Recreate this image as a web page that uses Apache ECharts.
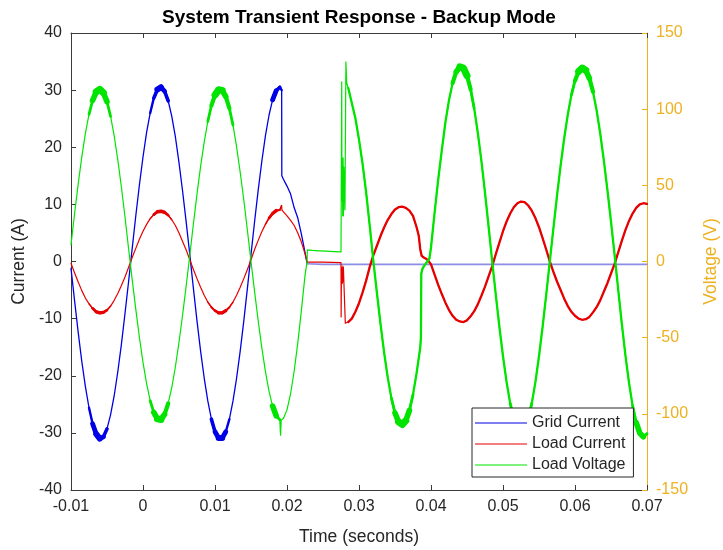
<!DOCTYPE html>
<html>
<head>
<meta charset="utf-8">
<script src="https://cdn.jsdelivr.net/npm/echarts@6/dist/echarts.min.js"></script>
<style>
  html, body { margin: 0; padding: 0; background: #ffffff; }
  #chart { width: 723px; height: 550px; }
</style>
</head>
<body>
<div id="chart"></div>
<script>
// Time (s) / value samples of the three measured traces.
const gridCurrent = [
  [-0.01, -1.2], [-0.0095, -6.9], [-0.009, -12.4], [-0.0085, -17.5], [-0.008, -21.9], [-0.0075, -25.6], [-0.007, -28.4], [-0.0065, -30.2], [-0.006, -31.0], [-0.0055, -30.7], [-0.005, -29.3], [-0.0045, -26.8], [-0.004, -23.5], [-0.0035, -19.3], [-0.003, -14.5], [-0.0025, -9.1], [-0.002, -3.5],
  [-0.0015, 2.3], [-0.001, 8.0], [-0.0005, 13.4], [0, 18.3], [0.0005, 22.6], [0.001, 26.0], [0.0015, 28.6], [0.002, 30.1], [0.0025, 30.5], [0.003, 29.8], [0.0035, 28.1], [0.004, 25.4], [0.0045, 21.8], [0.005, 17.3], [0.0055, 12.3], [0.006, 6.9], [0.0065, 1.2],
  [0.007, -4.7], [0.0075, -10.4], [0.008, -15.7], [0.0085, -20.4], [0.009, -24.4], [0.0095, -27.6], [0.01, -29.8], [0.0105, -30.9], [0.011, -30.9], [0.0115, -29.8], [0.012, -27.6], [0.0125, -24.4], [0.013, -20.4], [0.0135, -15.7], [0.014, -10.4], [0.0145, -4.7],
  [0.015, 1.2], [0.0155, 7.0], [0.016, 12.5], [0.0165, 17.5], [0.017, 22.0], [0.0175, 25.6], [0.018, 28.3], [0.0185, 29.9], [0.019, 30.5], [0.0192, 30.3], [0.01926, 30.0], [0.01928, 15.0],
  [0.0195, 14.4], [0.02, 13.2], [0.0205, 11.8], [0.021, 9.4], [0.0215, 7.6], [0.022, 4.8], [0.0225, 1.6], [0.0228, -0.4],
  [0.025, -0.5], [0.03, -0.5], [0.035, -0.5], [0.04, -0.5], [0.045, -0.5], [0.05, -0.5], [0.055, -0.5], [0.06, -0.5], [0.065, -0.5], [0.07, -0.5]
];

const loadCurrent = [
  [-0.01, -0.3], [-0.0095, -2.0], [-0.009, -3.6], [-0.0085, -5.1], [-0.008, -6.4], [-0.0075, -7.4], [-0.007, -8.2], [-0.0065, -8.8], [-0.006, -9.0], [-0.0055, -8.9], [-0.005, -8.5], [-0.0045, -7.8], [-0.004, -6.8], [-0.0035, -5.6], [-0.003, -4.2], [-0.0025, -2.7], [-0.002, -1.0],
  [-0.0015, 0.7], [-0.001, 2.3], [-0.0005, 3.9], [0, 5.3], [0.0005, 6.5], [0.001, 7.5], [0.0015, 8.2], [0.002, 8.7], [0.0025, 8.8], [0.003, 8.6], [0.0035, 8.1], [0.004, 7.3], [0.0045, 6.3], [0.005, 5.0], [0.0055, 3.5], [0.006, 2.0], [0.0065, 0.3],
  [0.007, -1.4], [0.0075, -3.0], [0.008, -4.5], [0.0085, -5.9], [0.009, -7.1], [0.0095, -8.0], [0.01, -8.6], [0.0105, -9.0], [0.011, -9.0], [0.0115, -8.6], [0.012, -8.0], [0.0125, -7.1], [0.013, -5.9], [0.0135, -4.5], [0.014, -3.0], [0.0145, -1.4],
  [0.015, 0.3], [0.0155, 2.1], [0.016, 3.7], [0.0165, 5.2], [0.017, 6.5], [0.0175, 7.6], [0.018, 8.4], [0.0185, 8.9], [0.019, 9.0], [0.01925, 9.8], [0.0193, 9.0],
  [0.0195, 8.7], [0.02, 8.0], [0.0205, 7.2], [0.021, 6.3], [0.0215, 5.0], [0.022, 3.4], [0.0225, 1.4], [0.0228, -0.1],
  [0.025, -0.1], [0.0275, -0.2], [0.02752, -9.7], [0.02756, -1.0], [0.0277, -3.8], [0.02775, -0.8], [0.0278, -3.5], [0.02783, -1.0], [0.0281, -10.8],
  [0.0285, -10.6], [0.029, -10.0], [0.0295, -8.8], [0.03, -7.3], [0.0305, -5.4], [0.031, -3.3], [0.0315, -0.9],
  [0.032, 1.1], [0.0325, 2.8], [0.033, 4.5], [0.0335, 6.0], [0.034, 7.3], [0.0345, 8.3], [0.035, 9.1], [0.0355, 9.5], [0.036, 9.6], [0.0365, 9.4], [0.037, 8.9], [0.0375, 8.0], [0.038, 6.0], [0.0383, 4.5], [0.0385, 2.2], [0.0387, 1.0], [0.039, 0.7], [0.0393, 0.5], [0.0396, 0.2], [0.04, -0.5],
  [0.0405, -2.3], [0.041, -4.1], [0.0415, -5.7], [0.042, -7.2], [0.0425, -8.5], [0.043, -9.5], [0.0435, -10.2], [0.044, -10.5], [0.0445, -10.6], [0.045, -10.3], [0.0455, -9.6], [0.046, -8.7], [0.0465, -7.5], [0.047, -6.0], [0.0475, -4.4], [0.048, -2.6], [0.0485, -0.8],
  [0.049, 1.3], [0.0495, 3.3], [0.05, 5.3], [0.0505, 7.0], [0.051, 8.4], [0.0515, 9.5], [0.052, 10.2], [0.0525, 10.5], [0.053, 10.4], [0.0535, 9.8], [0.054, 8.9], [0.0545, 7.6], [0.055, 6.0], [0.0555, 4.1], [0.056, 2.1], [0.0565, 0.0],
  [0.057, -1.8], [0.0575, -3.5], [0.058, -5.0], [0.0585, -6.5], [0.059, -7.8], [0.0595, -8.8], [0.06, -9.5], [0.0605, -10.0], [0.061, -10.2], [0.0615, -10.1], [0.062, -9.7], [0.0625, -8.9], [0.063, -8.0], [0.0635, -6.8], [0.064, -5.3], [0.0645, -3.8], [0.065, -2.1], [0.0655, -0.4],
  [0.066, 1.6], [0.0665, 3.6], [0.067, 5.5], [0.0675, 7.1], [0.068, 8.4], [0.0685, 9.4], [0.069, 10.0], [0.0695, 10.2], [0.07, 10.1]
];

const loadVoltage = [
  [-0.01, 10.9], [-0.0095, 31.5], [-0.009, 51.0], [-0.0085, 68.7], [-0.008, 84.1], [-0.0075, 96.6], [-0.007, 105.7], [-0.0065, 111.3], [-0.006, 113.0], [-0.0055, 110.8], [-0.005, 104.9], [-0.0045, 95.2], [-0.004, 82.4], [-0.0035, 66.7], [-0.003, 48.9], [-0.0025, 29.2], [-0.002, 8.4],
  [-0.0015, -11.9], [-0.001, -31.4], [-0.0005, -49.7], [0, -66.2], [0.0005, -80.2], [0.001, -91.4], [0.0015, -99.1], [0.002, -103.3], [0.0025, -103.7], [0.003, -100.3], [0.0035, -93.2], [0.004, -82.7], [0.0045, -69.1], [0.005, -53.0], [0.0055, -35.1], [0.006, -15.9],
  [0.0065, 4.1], [0.007, 24.6], [0.0075, 44.2], [0.008, 62.4], [0.0085, 78.4], [0.009, 91.9], [0.0095, 102.3], [0.01, 109.3], [0.0105, 112.7], [0.011, 112.3], [0.0115, 108.2], [0.012, 100.5], [0.0125, 89.5], [0.013, 75.3], [0.0135, 58.6], [0.014, 40.4], [0.0145, 20.5], [0.015, 0.0],
  [0.0155, -19.8], [0.016, -38.9], [0.0165, -56.5], [0.017, -72.1], [0.0175, -85.1], [0.018, -94.9], [0.0185, -101.3], [0.019, -103.9], [0.0191, -114.0], [0.0192, -104.0],
  [0.0195, -103.1], [0.02, -97.4], [0.0205, -86.8], [0.021, -71.9], [0.0215, -53.4], [0.022, -32.1], [0.0225, -9.3], [0.0228, 0.5], [0.02282, 7.6],
  [0.0235, 7.3], [0.0245, 7.0], [0.0255, 6.8], [0.0265, 6.5], [0.0275, 6.3],
  [0.02758, 6.3], [0.0276, 118.0], [0.02763, 40.0], [0.0277, 66.0], [0.02774, 30.0], [0.02779, 68.0], [0.02784, 30.0], [0.0279, 62.0], [0.02805, 34.0], [0.02818, 131.0], [0.0283, 117.0],
  [0.0285, 114.0], [0.029, 104.0], [0.0295, 94.0], [0.03, 80.0], [0.0305, 64.0], [0.031, 45.0], [0.0315, 23.0], [0.032, 0.0],
  [0.0325, -21.1], [0.033, -41.4], [0.0335, -60.1], [0.034, -76.4], [0.0345, -89.7], [0.035, -99.4], [0.0355, -105.3], [0.036, -107.0], [0.0365, -104.5], [0.037, -97.8], [0.0375, -87.4], [0.038, -73.3], [0.0385, -56.7], [0.0386, -50.0], [0.03865, -8.0], [0.0388, -5.0], [0.039, -3.2], [0.0393, -1.2], [0.0396, 0.5], [0.0398, 2.5],
  [0.04, 9.2], [0.0405, 32.0], [0.041, 53.7], [0.0415, 73.0], [0.042, 91.3], [0.0425, 105.9], [0.043, 117.1], [0.0435, 124.5], [0.044, 127.8], [0.0445, 127.0], [0.045, 122.0], [0.0455, 113.1], [0.046, 100.5], [0.0465, 84.5], [0.047, 66.0], [0.0475, 45.2], [0.048, 22.9], [0.0485, 0.0],
  [0.049, -21.9], [0.0495, -42.9], [0.05, -62.2], [0.0505, -79.2], [0.051, -93.1], [0.0515, -103.5], [0.052, -109.8], [0.0525, -112.0], [0.053, -109.8], [0.0535, -103.5], [0.054, -93.1], [0.0545, -79.2], [0.055, -62.2], [0.0555, -42.9], [0.056, -21.9], [0.0565, 0.0],
  [0.057, 21.8], [0.0575, 43.0], [0.058, 62.9], [0.0585, 80.9], [0.059, 96.5], [0.0595, 109.3], [0.06, 118.7], [0.0605, 124.7], [0.061, 127.0], [0.0615, 125.5], [0.062, 120.2], [0.0625, 111.4], [0.063, 99.3], [0.0635, 84.2], [0.064, 66.6], [0.0645, 47.0], [0.065, 26.1], [0.0655, 4.4],
  [0.066, -18.4], [0.0665, -40.8], [0.067, -61.5], [0.0675, -79.6], [0.068, -94.6], [0.0685, -105.8], [0.069, -112.7], [0.0695, -115.0], [0.07, -113.0]
];

// Instant the grid side is disconnected; after it only a small idle offset remains.
const gridOpenTime = 0.0228;

// Stretches where switching ripple thickens a trace: [series, from (s), to (s)].
const rippleSpans = [
  ['Grid Current', -0.0078, -0.0046], ['Grid Current', 0.0010, 0.0038],
  ['Grid Current', 0.0092, 0.0121], ['Grid Current', 0.0176, 0.01926],
  ['Load Current', -0.0078, -0.0042], ['Load Current', 0.0008, 0.0042],
  ['Load Current', 0.0090, 0.0126], ['Load Current', 0.0168, 0.01925],
  ['Load Voltage', -0.0077, -0.0043], ['Load Voltage', 0.0007, 0.0039],
  ['Load Voltage', 0.0089, 0.0125], ['Load Voltage', 0.0176, 0.0190],
  ['Load Voltage', 0.0342, 0.0378], ['Load Voltage', 0.0426, 0.0462],
  ['Load Voltage', 0.0508, 0.0542], ['Load Voltage', 0.0593, 0.0629],
  ['Load Voltage', 0.0679, 0.0700]
];
// Inverter-fed part of the load traces, drawn a little heavier.
const inverterSpans = [
  ['Load Current', 0.0285, 0.0700], ['Load Voltage', 0.0285, 0.0700]
];

const FONT = '"Liberation Sans", Arial, Helvetica, sans-serif';
const INK = '#262626';
const FRAME = '#3a3a3a';
const VOLT_AXIS = '#EDB120';
const COLORS = { 'Grid Current': '#0000e6', 'Load Current': '#e60000', 'Load Voltage': '#00e400' };
const RIPPLE_WIDTH = { 'Grid Current': 6, 'Load Current': 3.4, 'Load Voltage': 7 };
// Ripple is strongest at the centre of each span: nested sub-spans, [fraction of span, fraction of width].
const RIPPLE_TAPER = [[1.0, 0.4], [0.8, 0.6], [0.6, 0.8], [0.4, 1.0]];
const SOURCE = { 'Grid Current': gridCurrent, 'Load Current': loadCurrent, 'Load Voltage': loadVoltage };
const AXIS_OF = { 'Grid Current': 0, 'Load Current': 0, 'Load Voltage': 1 };

const within = (arr, a, b) => arr.filter(p => p[0] >= a - 1e-9 && p[0] <= b + 1e-9);

function trace(name, label, data, color, width) {
  return {
    name: label, type: 'line', xAxisIndex: 0, yAxisIndex: AXIS_OF[name],
    data: data, showSymbol: false, symbol: 'none', silent: true,
    lineStyle: { color: color, width: width, join: 'round', cap: 'round' },
    itemStyle: { color: color }, animation: false
  };
}

const series = [];
['Grid Current', 'Load Current', 'Load Voltage'].forEach(name => {
  const col = COLORS[name];
  if (name === 'Grid Current') {
    series.push(trace(name, name, within(gridCurrent, -1, gridOpenTime), col, 1.3));
    series.push(trace(name, 'Grid Current idle', within(gridCurrent, gridOpenTime, 1), '#8c8ce6', 1.6));
  } else {
    series.push(trace(name, name, SOURCE[name], col, 1.2));
  }
  inverterSpans.filter(s => s[0] === name).forEach((s, i) => {
    series.push(trace(name, name + ' inverter ' + i, within(SOURCE[name], s[1], s[2]), col, 2.3));
  });
  rippleSpans.filter(s => s[0] === name).forEach((s, i) => {
    const mid = (s[1] + s[2]) / 2, half = (s[2] - s[1]) / 2;
    RIPPLE_TAPER.forEach(([frac, wf], k) => {
      const pts = within(SOURCE[name], mid - half * frac, mid + half * frac);
      if (pts.length > 1) {
        series.push(trace(name, name + ' ripple ' + i + '.' + k, pts, col, RIPPLE_WIDTH[name] * wf));
      }
    });
  });
});

const timeLabel = v => {
  const r = Math.round(v * 1000) / 1000;
  return r === 0 ? '0' : String(r);
};

const chart = echarts.init(document.getElementById('chart'), null, { renderer: 'canvas' });
chart.setOption({
  backgroundColor: '#ffffff',
  animation: false,
  title: {
    text: 'System Transient Response - Backup Mode',
    left: 359, top: 8, padding: 0, textAlign: 'center',
    textStyle: { fontFamily: FONT, fontSize: 19, fontWeight: 'bold', color: '#000000' }
  },
  grid: { left: 71, right: 76, top: 33, bottom: 60, containLabel: false, outerBoundsMode: 'none' },
  legend: {
    data: ['Grid Current', 'Load Current', 'Load Voltage'],
    orient: 'vertical', left: 472, top: 408,
    padding: [6, 8, 3, 3], itemGap: 3,
    icon: 'rect', itemWidth: 52, itemHeight: 1,
    backgroundColor: '#ffffff', borderColor: INK, borderWidth: 1, borderRadius: 0,
    textStyle: { fontFamily: FONT, fontSize: 16, color: INK, lineHeight: 18 },
    selectedMode: false
  },
  xAxis: [
    {
      type: 'value', position: 'bottom', min: -0.01, max: 0.07, interval: 0.01,
      name: 'Time (seconds)', nameLocation: 'middle', nameGap: 38,
      nameTextStyle: { fontFamily: FONT, fontSize: 17.5, color: INK },
      axisLine: { show: true, onZero: false, lineStyle: { color: FRAME, width: 1 } },
      axisTick: { show: true, inside: true, length: 5, lineStyle: { color: FRAME } },
      axisLabel: { formatter: timeLabel, fontFamily: FONT, fontSize: 16, color: INK, margin: 9 },
      splitLine: { show: false }
    },
    {
      type: 'value', position: 'top', min: -0.01, max: 0.07, interval: 0.01,
      axisLine: { show: true, onZero: false, lineStyle: { color: FRAME, width: 1 } },
      axisTick: { show: true, inside: true, length: 5, lineStyle: { color: FRAME } },
      axisLabel: { show: false }, splitLine: { show: false }
    }
  ],
  yAxis: [
    {
      type: 'value', position: 'left', min: -40, max: 40, interval: 10,
      name: 'Current (A)', nameLocation: 'middle', nameGap: 38, nameRotate: 90,
      nameTextStyle: { fontFamily: FONT, fontSize: 17.5, color: INK },
      axisLine: { show: true, onZero: false, lineStyle: { color: FRAME, width: 1 } },
      axisTick: { show: true, inside: true, length: 5, lineStyle: { color: FRAME } },
      axisLabel: { fontFamily: FONT, fontSize: 16, color: INK, margin: 9 },
      splitLine: { show: false }
    },
    {
      type: 'value', position: 'right', min: -150, max: 150, interval: 50,
      name: 'Voltage (V)', nameLocation: 'middle', nameGap: 55, nameRotate: 90,
      nameTextStyle: { fontFamily: FONT, fontSize: 17.5, color: VOLT_AXIS },
      axisLine: { show: true, onZero: false, lineStyle: { color: VOLT_AXIS, width: 1 } },
      axisTick: { show: true, inside: true, length: 5, lineStyle: { color: VOLT_AXIS } },
      axisLabel: { fontFamily: FONT, fontSize: 16, color: VOLT_AXIS, margin: 9 },
      splitLine: { show: false }
    }
  ],
  series: series
});
</script>
</body>
</html>
